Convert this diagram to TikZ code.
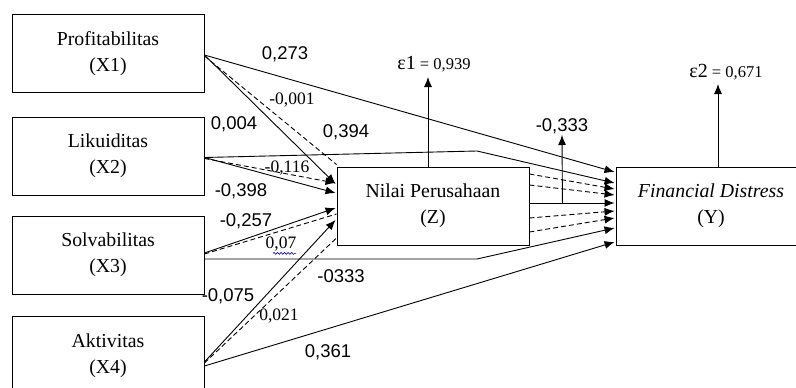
\documentclass[tikz,border=0pt]{standalone}
\usepackage{fontspec}
\setmainfont{Liberation Serif}
\newfontfamily\labelsans{Liberation Sans}
\usetikzlibrary{arrows.meta,calc,decorations.pathmorphing}
\begin{document}
\begin{tikzpicture}[x=1pt,y=-1pt,
  varbox/.style={draw,line width=0.9pt,minimum width=192pt,minimum height=78pt,
    inner sep=0pt,align=center,font=\fontsize{19.8}{26}\selectfont},
  conn/.style={line width=0.9pt,-{Latex[length=10pt,width=8pt]}},
  ind/.style={line width=0.9pt,dash pattern=on 5pt off 3pt},
  indarr/.style={ind,-{Latex[length=10pt,width=8pt]}},
  coef/.style={font=\labelsans\fontsize{18.5}{20}\selectfont,inner sep=0pt},
  coefs/.style={font=\fontsize{17.5}{20}\selectfont,inner sep=0pt}]
\useasboundingbox (0,0) rectangle (796,388);

% variables
\node[varbox] (x1) at (108,53.5) {Profitabilitas\\(X1)};
\node[varbox] (x2) at (108,156) {Likuiditas\\(X2)};
\node[varbox] (x3) at (108,255) {Solvabilitas\\(X3)};
\node[varbox,minimum height=80pt] (x4) at (108,356) {Aktivitas\\(X4)};
\node[varbox] (z) at (433,206) {Nilai Perusahaan\\(Z)};
\node[varbox,minimum width=190pt] (y) at (711,206) {\textit{Financial Distress}\\(Y)};

% bends and free ends
\coordinate (b2) at (477,151);
\coordinate (b3) at (477,259);
\coordinate (zyfork) at ($(z.east)+(33,-3)$);
\coordinate (zytip) at (562,135);
\coordinate (e1tip) at (428,77);
\coordinate (e2tip) at (718,84);

% paths from X1
\draw[conn] ($(x1.east)+(0,1.5)$) -- ($(y.west)+(-1,-34)$);
\draw[conn] ($(x1.east)+(0,1.5)$) -- ($(z.west)+(-1,-22)$);
\draw[ind] ($(x1.east)+(0,2.5)$) -- ($(z.north west)+(0,-2)$);

% paths from X2
\draw[conn] ($(x2.east)+(0,1.5)$) -- (b2) -- ($(y.west)+(-1,-23)$);
\draw[conn] ($(x2.east)+(0,1.5)$) -- ($(z.west)+(-1,-13)$);
\draw[indarr] ($(x2.east)+(0,2.5)$) -- ($(z.west)+(-1,-23)$);

% paths from X3
\draw[conn] ($(x3.east)+(0,-2)$) -- ($(z.west)+(-1,2)$);
\draw[ind] ($(x3.east)+(0,-1)$) -- ($(z.west)+(0,8)$);
\draw[conn] ($(x3.east)+(0,4)$) -- (b3) -- ($(y.west)+(-1,22)$);

% paths from X4
\draw[conn] ($(x4.east)+(0,6)$) -- ($(z.west)+(-1,14)$);
\draw[ind] ($(x4.east)+(0,7)$) -- ($(z.west)+(0,32)$);
\draw[conn] ($(x4.east)+(0,10)$) -- ($(y.west)+(-1,36)$);

% Z to Y
\draw[conn] ($(z.east)+(0,-3)$) -- ($(y.west)+(-1,-3)$);
\draw[indarr] ($(z.east)+(0,-32)$) -- ($(y.west)+(-1,-17)$);
\draw[indarr] ($(z.east)+(0,-21)$) -- ($(y.west)+(-1,-11)$);
\draw[indarr] ($(z.east)+(0,12)$) -- ($(y.west)+(-1,5)$);
\draw[indarr] ($(z.east)+(0,26)$) -- ($(y.west)+(-1,12)$);
\draw[conn] (zyfork) -- (zytip);

% residuals
\draw[conn] ($(z.north)+(-5,0)$) -- (e1tip);
\draw[conn] ($(y.north)+(7,0)$) -- (e2tip);
\node[inner sep=0pt] (e1) at (434,64) {\fontsize{20}{20}\selectfont ε1\fontsize{16.5}{16}\selectfont{} = 0,939};
\node[inner sep=0pt] (e2) at (726,72) {\fontsize{20}{20}\selectfont ε2\fontsize{16.5}{16}\selectfont{} = 0,671};

% coefficients
\node[coef] (c1) at (285,54) {0,273};
\node[coefs] (c2) at (292,100) {-0,001};
\node[coef] (c3) at (234,124) {0,004};
\node[coef] (c4) at (346,132) {0,394};
\node[coefs] (c5) at (287,168) {-0,116};
\node[coef] (c6) at (241,191) {-0,398};
\node[coef] (c7) at (246,221) {-0,257};
\node[coefs] (c8) at (281,244) {0,07};
\node[coef] (c9) at (341,276) {-0333};
\node[coef] (c10) at (228,296) {-0,075};
\node[coefs] (c11) at (279,316) {0,021};
\node[coef] (c12) at (328,352) {0,361};
\node[coef] (c13) at (562,126) {-0,333};

% spell-check squiggle under 0,07
\draw[blue!85!black,line width=0.6pt,decorate,
  decoration={snake,amplitude=1pt,segment length=3.5pt}]
  ($(c8.south)+(-8,2)$) -- ($(c8.south)+(15,2)$);
\end{tikzpicture}
\end{document}
